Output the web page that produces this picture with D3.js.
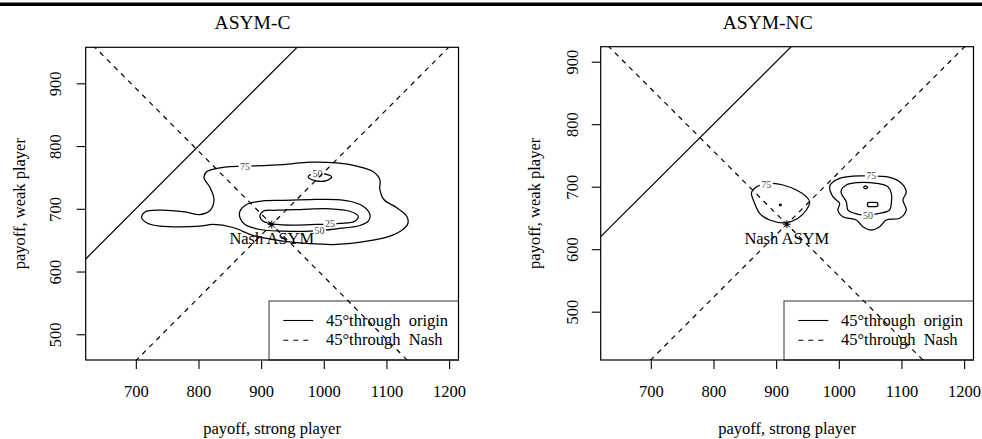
<!DOCTYPE html>
<html><head><meta charset="utf-8">
<script src="https://cdn.jsdelivr.net/npm/d3@7"></script>
<style>
body{margin:0;background:#fff}
svg{display:block}
text{font-family:"Liberation Serif","Times New Roman",serif;fill:#000}
</style>
</head><body>
<svg id="chart" width="982" height="439"></svg>
<script>
// ---------------- data ----------------
const panelTitles = ["ASYM-C", "ASYM-NC"];
const xTicks = [700, 800, 900, 1000, 1100, 1200];
const yTicks = [500, 600, 700, 800, 900];
const xAxisTitle = "payoff, strong player";
const yAxisTitle = "payoff, weak player";
const nashText = "Nash ASYM";
const legendLabels = ["45°through  origin", "45°through  Nash"];

const xDomain = [620, 1215];
const yDomainC = [459, 957.4];
const yDomainNC = [422.7, 924];

const nashC = [917, 675];
const nashNC = [917, 640];

// ASYM-C density contours (payoff strong, payoff weak)
const contourC75 = [[709.4,685.7],[714.7,694.9],[738.6,697.8],[778.5,694.9],[802.4,690.9],[818.4,697.3],[824.8,714.8],[818.4,733.8],[808.8,749.7],[813.6,759.3],[842.3,766.4],[874.2,767.7],[934.8,770.4],[977.9,774.4],[1020.9,773.1],[1052.8,768],[1078.4,759.3],[1089.5,746.5],[1089.5,730.6],[1095.9,714.8],[1116.6,701.5],[1132.6,687.7],[1134.2,676.6],[1126.2,667],[1105.5,656.4],[1068.8,648.4],[1020.9,643.2],[977.9,644.3],[934.8,648.4],[909.3,652.7],[887,657.5],[855.1,670.2],[823.2,675],[802.4,672.3],[770.5,671],[738.6,672.3],[717.9,677.4]];
const contourC50 = [[866.2,696.1],[876.9,706.8],[898.1,712],[935.3,713.6],[977.9,714.8],[1020.5,714.8],[1041.7,712],[1062.9,704.1],[1073.6,690.9],[1070.9,680.2],[1057.6,673.4],[1020.5,668.1],[977.9,664.3],[935.3,664.3],[898.1,667],[874.2,675],[866.2,685.7]];
const contourC25 = [[898.1,688.2],[903.4,696.1],[924.8,697.7],[961.9,698.8],[1009.8,700],[1041.7,696.1],[1054.9,688.2],[1049.7,680.2],[1025.7,676.6],[988.6,675],[951.2,673.9],[924.8,675],[903.4,680.2]];
const contourC50b = [[975.2,750.8],[983.1,756.1],[999.1,756.1],[1012.5,750.8],[1004.5,745],[985.9,745]];
const labelsC = [["75",874.2,767.4],["50",990,756.3],["50",993,665.2],["25",1009.8,676.4]];

// ASYM-NC density contours
const contourNC75a = [[863,694.7],[860.5,689.4],[865.7,673.4],[873.7,657.4],[889.7,646.7],[916.3,642.4],[934.8,649.4],[948.2,662.7],[953.5,676],[948.2,684],[932.3,694.7],[910.9,702.7],[894.9,705.4],[884.4,704],[871,701.1]];
const contourNC75b = [[988.1,705.4],[985.4,700],[990.6,684],[1001.3,673.4],[998.6,662.7],[1006.6,652],[1028,646.7],[1038.5,636],[1051.9,630.7],[1065.1,636],[1075.8,646.7],[1097,649.4],[1107.7,662.7],[1102.3,678.7],[1107.7,692],[1097,708],[1075.8,716],[1051.9,717.1],[1022.5,717.1],[1001.3,713.4]];
const contourNC50 = [[1004,689.4],[1012,676],[1014.6,662.7],[1025.2,657.4],[1041.2,654.7],[1065.1,657.4],[1081.1,662.7],[1083.8,673.4],[1083.8,689.4],[1078.4,700],[1059.9,705.4],[1028,706.4],[1012,702.7],[1004,694.7]];
const contourNCdot1 = [[905.2,670.7],[906.7,672],[908.2,670.7],[906.7,669.4]];
const contourNCdot2 = [[1039.6,699],[1042.8,701.4],[1046,699],[1042.8,696.6]];
const contourNCbar = [[1045.5,671.5],[1047,674.5],[1054,675],[1061,674.5],[1062.5,671.5],[1061,668.5],[1054,668],[1047,668.5]];
const labelsNC = [["75",884.4,704],["75",1051.9,717.4],["50",1046.5,654.7]];

// ---------------- layout ----------------
const layouts = [
  {x0:85.7, x1:458.5, y0:47.3, y1:360, titleX:252.5, yTitleX:19, yTickX:55},
  {x0:600.7, x1:973.5, y0:46.7, y1:360, titleX:767.7, yTitleX:534, yTickX:572.5}
];
const panels = [
  {title:panelTitles[0], yDomain:yDomainC, nash:nashC,
   contours:[contourC75, contourC50, contourC25, contourC50b], labels:labelsC},
  {title:panelTitles[1], yDomain:yDomainNC, nash:nashNC,
   contours:[contourNC75a, contourNC75b, contourNC50, contourNCdot1, contourNCdot2, contourNCbar], labels:labelsNC}
];

const FONT = '"Liberation Serif","Times New Roman",serif';
const svg = d3.select("#chart");
svg.append("rect").attr("x",0).attr("y",0).attr("width",982).attr("height",439).attr("fill","#fff");
svg.append("rect").attr("x",0).attr("y",2.5).attr("width",982).attr("height",3.5).attr("fill","#000");

const FS = 16.5;
const dash = "5,5";

panels.forEach((p, i) => {
  const L = layouts[i];
  const x = d3.scaleLinear().domain(xDomain).range([L.x0, L.x1]);
  const y = d3.scaleLinear().domain(p.yDomain).range([L.y1, L.y0]);
  const g = svg.append("g");
  const clipId = "clip" + i;
  svg.append("defs").append("clipPath").attr("id", clipId)
    .append("rect").attr("x",L.x0).attr("y",L.y0).attr("width",L.x1-L.x0).attr("height",L.y1-L.y0);

  // title
  g.append("text").attr("x",L.titleX).attr("y",29.3).attr("text-anchor","middle")
    .style("font-family",FONT).style("font-size","19.5px").style("font-weight","normal").text(p.title);

  // axes
  const xa = g.append("g").attr("transform",`translate(0,${L.y1})`)
    .call(d3.axisBottom(x).tickValues(xTicks).tickSize(9).tickPadding(16).tickFormat(d3.format("d")));
  xa.attr("font-family",null).attr("font-size",null);
  xa.select(".domain").remove();
  xa.selectAll("line").attr("stroke","#000").attr("stroke-width",1.1);
  xa.selectAll("text").style("font-family",FONT).style("font-size",FS+"px").attr("fill","#000");

  const ya = g.append("g").attr("transform",`translate(${L.x0},0)`)
    .call(d3.axisLeft(y).tickValues(yTicks).tickSize(9).tickFormat(d3.format("d")));
  ya.attr("font-family",null).attr("font-size",null);
  ya.select(".domain").remove();
  ya.selectAll("line").attr("stroke","#000").attr("stroke-width",1.1);
  ya.selectAll("text").attr("x",null).attr("dy","0.35em").attr("text-anchor","middle")
    .attr("transform",`translate(${L.yTickX - L.x0},0) rotate(-90)`)
    .style("font-family",FONT).style("font-size",FS+"px").attr("fill","#000");

  // axis titles
  g.append("text").attr("x",(L.x0+L.x1)/2).attr("y",434).attr("text-anchor","middle")
    .style("font-family",FONT).style("font-size",FS+"px").text(xAxisTitle);
  g.append("text").attr("text-anchor","middle").attr("dy","0.35em")
    .attr("transform",`translate(${L.yTitleX},${(L.y0+L.y1)/2}) rotate(-90)`)
    .style("font-family",FONT).style("font-size",FS+"px").text(yAxisTitle);

  const plot = g.append("g").attr("clip-path",`url(#${clipId})`);

  // contours
  const line = d3.line().x(d=>x(d[0])).y(d=>y(d[1])).curve(d3.curveCatmullRomClosed.alpha(0.5));
  plot.selectAll("path.contour").data(p.contours).join("path").attr("class","contour")
    .attr("d", line).attr("fill","none").attr("stroke","#000").attr("stroke-width",1.25);

  // contour labels
  const lab = plot.selectAll("g.clab").data(p.labels).join("g").attr("class","clab")
    .attr("transform", d=>`translate(${x(d[1])},${y(d[2])})`);
  lab.append("rect").attr("x",-6.5).attr("y",-3.5).attr("width",13).attr("height",7).attr("fill","#fff");
  lab.append("text").attr("text-anchor","middle").attr("dy","0.35em")
    .style("font-family",FONT).style("font-size","10px").style("fill","#444").text(d=>d[0]);

  // reference lines
  const [nx, ny] = p.nash;
  const xs = xDomain;
  const refLines = [
    {pts: xs.map(v=>[v, v]), dash: null},
    {pts: xs.map(v=>[v, v - nx + ny]), dash: dash}
  ];
  plot.selectAll("line.ref").data(refLines).join("line").attr("class","ref")
    .attr("x1",d=>x(d.pts[0][0])).attr("y1",d=>y(d.pts[0][1]))
    .attr("x2",d=>x(d.pts[1][0])).attr("y2",d=>y(d.pts[1][1]))
    .attr("stroke","#000").attr("stroke-width",1.2)
    .attr("stroke-dasharray",d=>d.dash);

  // Nash point (asterisk)
  const px = x(nx), py = y(ny);
  const s = 4, s2 = 3.2;
  g.append("path").attr("d",
    `M${px-s},${py}L${px+s},${py}M${px},${py-s}L${px},${py+s}` +
    `M${px-s2},${py-s2}L${px+s2},${py+s2}M${px-s2},${py+s2}L${px+s2},${py-s2}`)
    .attr("stroke","#000").attr("stroke-width",1).attr("fill","none");
  g.append("text").attr("x",px).attr("y",py+19.5).attr("text-anchor","middle")
    .style("font-family",FONT).style("font-size",FS+"px").text(nashText);

  // legend
  const lx0 = L.x1 - 189.5, ly0 = 301;
  g.append("rect").attr("x",lx0).attr("y",ly0).attr("width",L.x1-lx0).attr("height",L.y1-ly0)
    .attr("fill","#fff").attr("stroke","#333").attr("stroke-width",1);
  legendLabels.forEach((t, k) => {
    const ly = 320.5 + k*19.8;
    g.append("line").attr("x1",lx0+14.3).attr("x2",lx0+44.3).attr("y1",ly).attr("y2",ly)
      .attr("stroke","#000").attr("stroke-width",1.1).attr("stroke-dasharray", k===0?null:dash);
    g.append("text").attr("x",lx0+57).attr("y",ly+5).attr("xml:space","preserve")
      .style("white-space","pre").style("font-family",FONT).style("font-size",FS+"px").text(t);
  });

  // anti-diagonal through Nash drawn last (it crosses the legend in the original)
  g.append("g").attr("clip-path",`url(#${clipId})`).append("line")
    .attr("x1",x(xs[0])).attr("y1",y(-xs[0]+nx+ny)).attr("x2",x(xs[1])).attr("y2",y(-xs[1]+nx+ny))
    .attr("stroke","#000").attr("stroke-width",1.2).attr("stroke-dasharray",dash);

  // plot box
  g.append("rect").attr("x",L.x0).attr("y",L.y0).attr("width",L.x1-L.x0).attr("height",L.y1-L.y0)
    .attr("fill","none").attr("stroke","#000").attr("stroke-width",1.2);
});
</script>
</body></html>
